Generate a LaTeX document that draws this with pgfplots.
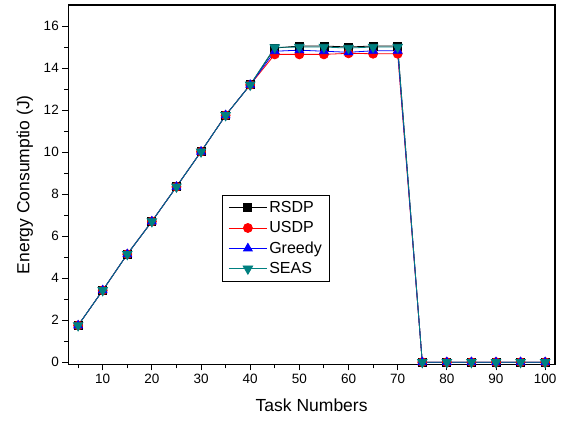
\documentclass[border=0pt]{standalone}
\usepackage{pgfplots}
\pgfplotsset{compat=1.18}
\usepackage{fontspec}
\setmainfont{Liberation Sans}
\definecolor{seas}{RGB}{0,128,128}
\begin{document}
\begin{tikzpicture}
\begin{axis}[
  scale only axis,
  width=486.7pt, height=359.3pt,
  xmin=3, xmax=102, ymin=-0.1, ymax=17,
  xtick={10,20,...,100}, minor xtick={5,15,...,95},
  ytick={0,2,...,16}, minor ytick={1,3,...,15},
  tick pos=left, tick align=outside,
  major tick length=6pt, minor tick length=4pt,
  every tick/.style={black, line width=1pt},
  axis line style={black, line width=1.3pt},
  /pgf/number format/assume math mode=true,
  tick label style={font=\fontsize{13.5}{16}\selectfont},
  label style={font=\fontsize{17.5}{21}\selectfont},
  xlabel={Task Numbers},
  xlabel style={yshift=-9pt},
  ylabel={Energy Consumptio (J)},
  ylabel style={yshift=4pt},
  legend style={at={(0.316,0.471)}, anchor=north west, draw=black, line width=0.8pt,
    font=\fontsize{16}{19}\selectfont, row sep=3.5pt, inner xsep=6pt, inner ysep=4pt},
  legend cell align=left,
  legend image code/.code={\draw[mark repeat=2,mark phase=2] plot coordinates {(0pt,0pt) (19pt,0pt) (38pt,0pt)};},
  clip=false,
]
\addplot[black, line width=0.8pt, mark=square*, mark size=4pt, mark options={solid, fill=black}] coordinates {
(5,1.75) (10,3.42) (15,5.14) (20,6.70) (25,8.35) (30,10.02) (35,11.75) (40,13.2)
(45,14.95) (50,15.05) (55,15.05) (60,15.0) (65,15.05) (70,15.05)
(75,0) (80,0) (85,0) (90,0) (95,0) (100,0)};
\addlegendentry{RSDP}
\addplot[red, line width=0.8pt, mark=*, mark size=4.5pt, mark options={solid, fill=red}] coordinates {
(5,1.75) (10,3.42) (15,5.14) (20,6.70) (25,8.35) (30,10.02) (35,11.75) (40,13.2)
(45,14.65) (50,14.65) (55,14.65) (60,14.7) (65,14.68) (70,14.68)
(75,0) (80,0) (85,0) (90,0) (95,0) (100,0)};
\addlegendentry{USDP}
\addplot[blue, line width=0.8pt, mark=triangle*, mark size=5pt, mark options={solid, fill=blue}] coordinates {
(5,1.75) (10,3.42) (15,5.14) (20,6.70) (25,8.35) (30,10.02) (35,11.75) (40,13.2)
(45,14.8) (50,14.85) (55,14.8) (60,14.75) (65,14.82) (70,14.82)
(75,0) (80,0) (85,0) (90,0) (95,0) (100,0)};
\addlegendentry{Greedy}
\addplot[seas, line width=0.8pt, mark=triangle*, mark size=5.5pt, mark options={solid, fill=seas, rotate=180}] coordinates {
(5,1.75) (10,3.42) (15,5.14) (20,6.70) (25,8.35) (30,10.02) (35,11.75) (40,13.2)
(45,14.98) (50,15.0) (55,15.0) (60,14.95) (65,15.0) (70,15.0)
(75,0) (80,0) (85,0) (90,0) (95,0) (100,0)};
\addlegendentry{SEAS}
\coordinate (O) at (rel axis cs:0,0);
\end{axis}
\path (O) ++(-68.3pt,-56.7pt) rectangle ++(568pt,421pt);
\end{tikzpicture}
\end{document}
